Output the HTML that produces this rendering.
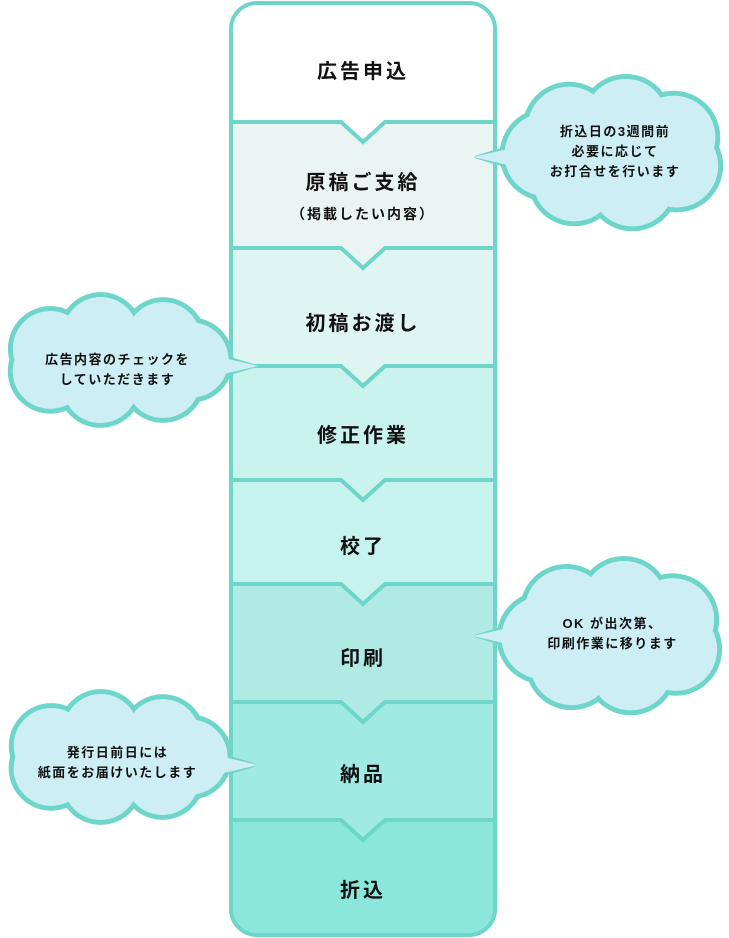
<!DOCTYPE html>
<html><head><meta charset="utf-8"><style>
html,body{margin:0;padding:0;background:#fff;}
body{width:729px;height:938px;position:relative;overflow:hidden;font-family:"Liberation Sans","Noto Sans CJK JP",sans-serif;color:#111;}
svg{position:absolute;left:0;top:0;}
.t{position:absolute;left:231px;width:264px;text-align:center;font-size:20px;letter-spacing:3px;font-weight:bold;}
.s{position:absolute;text-align:center;font-size:13px;letter-spacing:1.5px;line-height:20px;font-weight:bold;}
</style></head><body>
<svg id="sv" width="729" height="938" viewBox="0 0 729 938"></svg>
<div class="t" style="top:55px">広告申込</div>
<div class="t" style="top:166px">原稿ご支給</div>
<div class="t" style="top:204px;font-size:14px;letter-spacing:2px">（掲載したい内容）</div>
<div class="t" style="top:307px">初稿お渡し</div>
<div class="t" style="top:419px">修正作業</div>
<div class="t" style="top:530px">校了</div>
<div class="t" style="top:642px">印刷</div>
<div class="t" style="top:758px">納品</div>
<div class="t" style="top:874px">折込</div>
<div class="s" style="left:505px;top:122px;width:220px">折込日の3週間前<br>必要に応じて<br>お打合せを行います</div>
<div class="s" style="left:5px;top:350px;width:225px">広告内容のチェックを<br>していただきます</div>
<div class="s" style="left:500px;top:614px;width:225px">OK が出次第、<br>印刷作業に移ります</div>
<div class="s" style="left:5px;top:743px;width:225px">発行日前日には<br>紙面をお届けいたします</div>
<script>
var sv=document.getElementById('sv'),h='';
var B='#6dd5c9';
var L=231,R=495,T=3,Bt=935;
var bounds=[T,122,248,366,480,584,702,820,Bt];
var cols=['#ffffff','#eaf5f3','#dff5f1','#cbf3ee','#c6f3ee','#afebe4','#9feae3','#8be6dc'];
h+='<defs><clipPath id="c"><rect x="'+L+'" y="'+T+'" width="'+(R-L)+'" height="'+(Bt-T)+'" rx="26"/></clipPath></defs>';
h+='<g clip-path="url(#c)">';
for(var i=0;i<8;i++){h+='<rect x="'+L+'" y="'+bounds[i]+'" width="'+(R-L)+'" height="'+(bounds[i+1]-bounds[i]+1)+'" fill="'+cols[i]+'"/>';}
var cx=363;
for(var i=1;i<8;i++){var y=bounds[i];
 h+='<polygon points="'+(cx-22)+','+y+' '+(cx+22)+','+y+' '+cx+','+(y+20)+'" fill="'+cols[i-1]+'"/>';
 h+='<polyline points="'+L+','+y+' '+(cx-22)+','+y+' '+cx+','+(y+20)+' '+(cx+22)+','+y+' '+R+','+y+'" fill="none" stroke="'+B+'" stroke-width="4"/>';}
h+='</g>';
h+='<rect x="'+L+'" y="'+T+'" width="'+(R-L)+'" height="'+(Bt-T)+'" rx="26" fill="none" stroke="'+B+'" stroke-width="4"/>';
function cloud(x,y,rx,ry,n,br,px,py,dir,off){
 var cs=[[x,y,0,rx-br*0.5,ry-br*0.5]];var s='';
 for(var k=0;k<n;k++){var a=k/n*2*Math.PI+off;cs.push([x+Math.cos(a)*(rx-br),y+Math.sin(a)*(ry-br),br]);}
 s+='<polygon points="'+px+','+py+' '+(px-dir*40)+','+(py-12)+' '+(px-dir*40)+','+(py+12)+'" fill="#cdeef5" stroke="'+B+'" stroke-width="3" stroke-linejoin="round"/>';
 cs.forEach(function(c){s+=c[2]?'<circle cx="'+c[0]+'" cy="'+c[1]+'" r="'+c[2]+'" fill="#cdeef5" stroke="'+B+'" stroke-width="5"/>':'<ellipse cx="'+c[0]+'" cy="'+c[1]+'" rx="'+c[3]+'" ry="'+c[4]+'" fill="#cdeef5" stroke="'+B+'" stroke-width="5"/>';});
 cs.forEach(function(c){s+=c[2]?'<circle cx="'+c[0]+'" cy="'+c[1]+'" r="'+(c[2]-2.5)+'" fill="#cdeef5"/>':'<ellipse cx="'+c[0]+'" cy="'+c[1]+'" rx="'+(c[3]-2.5)+'" ry="'+(c[4]-2.5)+'" fill="#cdeef5"/>';});
 s+='<polygon points="'+(px+dir*3)+','+py+' '+(px-dir*40)+','+(py-10)+' '+(px-dir*40)+','+(py+10)+'" fill="#cdeef5"/>';
 return s;}
h+=cloud(614,153,112,77,7,44,476,157,-1,0.4);
h+=cloud(117,360,114,66,7,40,255,366,1,0.9);
h+=cloud(612,636,113,78,7,44,476,636,-1,0.4);
h+=cloud(117,757,113,66,7,40,255,765,1,0.9);
sv.innerHTML=h;
</script>
</body></html>
